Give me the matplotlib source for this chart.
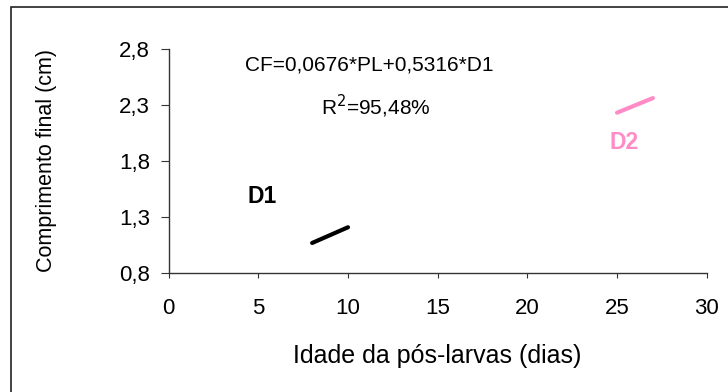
import matplotlib
matplotlib.use("Agg")
import matplotlib.pyplot as plt
from matplotlib.patches import Rectangle

plt.rcParams['font.family'] = ['Liberation Sans', 'DejaVu Sans']

# fitted lines for each diet: age of post-larvae (days) vs final length (cm)
d1_age = [8, 10]
d1_length = [1.07, 1.21]
d2_age = [25, 27]
d2_length = [2.23, 2.36]

x_ticks = [0, 5, 10, 15, 20, 25, 30]
y_ticks = [0.8, 1.3, 1.8, 2.3, 2.8]
y_tick_labels = ['0,8', '1,3', '1,8', '2,3', '2,8']

pink = '#FF8CC6'

fig = plt.figure(figsize=(7.28, 3.92), dpi=100)
ax = fig.add_axes([0.2317, 0.3028, 0.7390, 0.5730])

ax.plot(d1_age, d1_length, color='black', linewidth=3, solid_capstyle='round')
ax.plot(d2_age, d2_length, color=pink, linewidth=3, solid_capstyle='round')

ax.set_xlim(0, 30)
ax.set_ylim(0.8, 2.8)
ax.set_xticks(x_ticks)
ax.set_yticks(y_ticks)
ax.set_yticklabels(y_tick_labels)
ax.tick_params(axis='both', direction='out', width=0.8, labelsize=16,
               colors='#333333', labelcolor='black')
ax.tick_params(axis='x', length=3.6, pad=14)
ax.tick_params(axis='y', length=5.5, pad=8)

for side in ['top', 'right']:
    ax.spines[side].set_visible(False)
for side in ['left', 'bottom']:
    ax.spines[side].set_color('#333333')
    ax.spines[side].set_linewidth(1.0)

ax.set_xlabel('Idade da pós-larvas (dias)', fontsize=18)
ax.set_ylabel('Comprimento final (cm)', fontsize=15.5)
ax.xaxis.set_label_coords(0.5, -0.368)
ax.xaxis.label.set_va('center')
ax.yaxis.set_label_coords(-0.227, 0.5)
ax.yaxis.label.set_va('center')

ax.text(11.2, 2.655, 'CF=0,0676*PL+0,5316*D1', fontsize=15, va='center', ha='center')
ax.text(11.55, 2.29, 'R$^2$=95,48%', fontsize=15, va='center', ha='center')
ax.text(4.37, 1.48, 'D1', fontsize=16.5, fontweight='bold', va='center', ha='left')
ax.text(24.6, 1.966, 'D2', fontsize=16.5, fontweight='bold', va='center', ha='left',
        color=pink)

# outer frame (runs off the right and bottom edges)
fig.patches.append(Rectangle((11 / 728, -0.1), 1.2, 1 - 7 / 392 + 0.1,
                             transform=fig.transFigure, fill=False,
                             edgecolor='#222222', linewidth=1.2))

fig.savefig('out.png', dpi=100)
